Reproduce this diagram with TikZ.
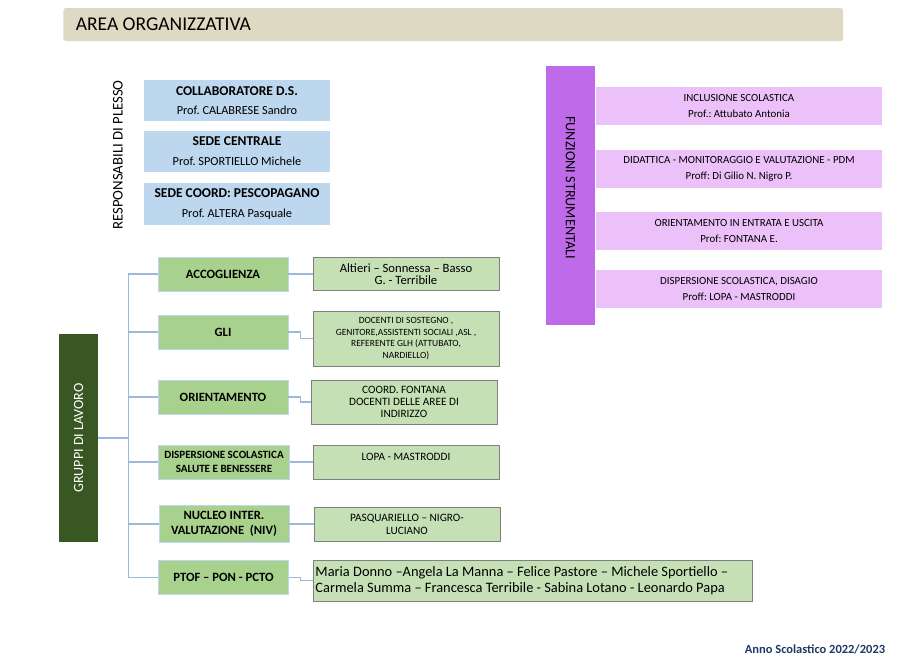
\documentclass[tikz,border=0pt]{standalone}
\usepackage{fontspec}
\setmainfont{Carlito}
\frenchspacing
\definecolor{titlebg}{HTML}{DDD9C3}
\definecolor{plessoblue}{HTML}{BDD7EE}
\definecolor{fsdark}{HTML}{BF6BE9}
\definecolor{fslight}{HTML}{ECC1F9}
\definecolor{gldark}{HTML}{385723}
\definecolor{glmid}{HTML}{A9D18E}
\definecolor{gllight}{HTML}{C5E0B4}
\definecolor{connblue}{HTML}{9DB9DA}
\definecolor{annoblue}{HTML}{1F3864}

\begin{document}
\begin{tikzpicture}[x=0.02cm,y=-0.02cm,
    plesso/.style={fill=plessoblue,minimum width=3.72cm,minimum height=0.82cm,align=center,
        font=\fontsize{7}{11}\selectfont},
    funz/.style={fill=fslight,minimum width=5.72cm,minimum height=0.76cm,align=center,
        font=\fontsize{6.2}{9}\selectfont},
    gruppo/.style={fill=glmid,draw=plessoblue,line width=0.4pt,minimum width=2.6cm,minimum height=0.68cm,
        align=center,font=\bfseries\fontsize{7.2}{8.6}\selectfont},
    membri/.style={fill=gllight,draw=black!50,line width=0.5pt,minimum width=3.72cm,align=center},
    conn/.style={draw=connblue,line width=0.6pt}]
    \useasboundingbox (0,0) rectangle (910,660);

    % title
    \node[fill=titlebg,rounded corners=1.5pt,anchor=west,minimum width=15.6cm,minimum height=0.66cm,
        text width=15.1cm,align=flush left,inner xsep=0.24cm,font=\fontsize{11.1}{12}\selectfont]
        (title) at (63,24.5) {AREA ORGANIZZATIVA};

    % responsabili di plesso
    \node[rotate=90,font=\fontsize{8.4}{9}\selectfont] (resp) at (118,155) {RESPONSABILI DI PLESSO};
    \foreach \y/\ruolo/\chi [count=\i] in {100.5/{COLLABORATORE D.S.}/{Prof. CALABRESE Sandro},
            151/{SEDE CENTRALE}/{Prof. SPORTIELLO Michele},
            204/{SEDE COORD: PESCOPAGANO}/{Prof. ALTERA Pasquale}} {
        \node[plesso] (p\i) at (237,\y) {{\bfseries\fontsize{7.7}{11}\selectfont\ruolo}\\\chi};
    }

    % funzioni strumentali
    \node[fill=fsdark,rotate=-90,minimum width=5.18cm,minimum height=0.98cm,
        font=\fontsize{8.1}{9}\selectfont] (fs) at (570.5,195.5) {FUNZIONI STRUMENTALI\hspace*{0.32cm}};
    \foreach \y/\area/\chi [count=\i] in {106/{INCLUSIONE SCOLASTICA}/{Prof.: Attubato Antonia},
            169/{DIDATTICA - MONITORAGGIO E VALUTAZIONE - PDM}/{Proff: Di Gilio N. Nigro P.},
            231/{ORIENTAMENTO IN ENTRATA E USCITA}/{Prof: FONTANA E.},
            289/{DISPERSIONE SCOLASTICA, DISAGIO}/{Proff: LOPA - MASTRODDI}} {
        \node[funz] (f\i) at (739,\y) {\area\\\chi};
    }

    % gruppi di lavoro
    \node[fill=gldark,text=white,rotate=90,minimum width=4.16cm,minimum height=0.78cm,
        font=\fontsize{8}{9}\selectfont] (gl) at (78.5,438) {GRUPPI DI LAVORO};
    \node[gruppo] (m1) at (223,274) {ACCOGLIENZA};
    \node[gruppo] (m2) at (223,332) {GLI};
    \node[gruppo] (m3) at (223,397) {ORIENTAMENTO};
    \node[gruppo,font=\bfseries\fontsize{6.3}{7.6}\selectfont] (m4) at (224,462)
        {DISPERSIONE SCOLASTICA\\SALUTE E BENESSERE};
    \node[gruppo] (m5) at (224,524) {NUCLEO INTER.\\VALUTAZIONE\ \ (NIV)};
    \node[gruppo] (m6) at (223.5,577.5) {PTOF -- PON - PCTO};

    % membri
    \node[membri,minimum height=0.64cm,font=\fontsize{7.2}{7}\selectfont] (l1) at (406,274)
        {Altieri -- Sonnessa -- Basso\\G. - Terribile};
    \node[membri,minimum height=1.1cm,font=\fontsize{5.4}{6.6}\selectfont] (l2) at (406,338.5)
        {DOCENTI DI SOSTEGNO ,\\GENITORE,ASSISTENTI SOCIALI ,ASL ,\\REFERENTE GLH (ATTUBATO,\\NARDIELLO)};
    \node[membri,minimum height=0.88cm,font=\fontsize{6.4}{6.9}\selectfont] (l3) at (404,402)
        {COORD. FONTANA\\DOCENTI DELLE AREE DI\\INDIRIZZO};
    \node[membri,minimum height=0.68cm,text depth=5.7pt,font=\fontsize{6.4}{6.9}\selectfont] (l4) at (406,462)
        {LOPA - MASTRODDI};
    \node[membri,minimum height=0.68cm,font=\fontsize{6.4}{7.4}\selectfont] (l5) at (407,524)
        {PASQUARIELLO -- NIGRO-\\LUCIANO};
    \node[membri,anchor=west,minimum width=8.78cm,minimum height=0.82cm,text width=8.7cm,align=flush left,
        inner xsep=1pt,font=\fontsize{8.2}{9.2}\selectfont] (l6) at (313,580.5)
        {Maria Donno --Angela La Manna -- Felice Pastore -- Michele Sportiello --\\
         Carmela Summa -- Francesca Terribile - Sabina Lotano - Leonardo Papa};

    % connectors
    \draw[conn] (gl.south) -- ++(30,0) coordinate (trunk);
    \foreach \i in {1,...,6} {
        \draw[conn] (trunk) |- (m\i.west);
        \draw[conn] (m\i.east) -- ++(12,0) |- (l\i.west);
    }

    \node[text=annoblue,font=\bfseries\fontsize{7.1}{8}\selectfont] (anno) at (815,649) {Anno Scolastico 2022/2023};
\end{tikzpicture}
\end{document}
